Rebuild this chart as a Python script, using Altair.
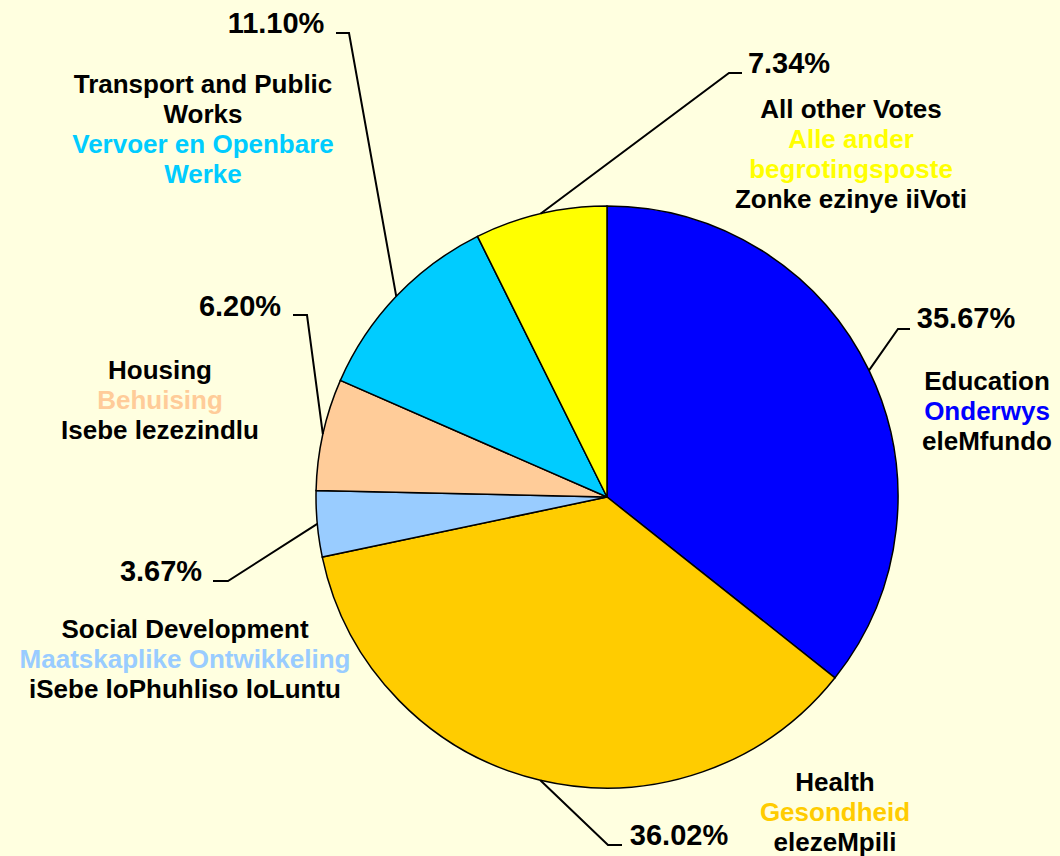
import altair as alt
import pandas as pd
import numpy as np

# ---- data ----
categories = ["Education", "Health", "Social Development", "Housing",
              "Transport and Public Works", "All other Votes"]
values = [35.67, 36.02, 3.67, 6.20, 11.10, 7.34]
pct_labels = ["35.67%", "36.02%", "3.67%", "6.20%", "11.10%", "7.34%"]
colors = ["#0000FF", "#FFCC00", "#99CCFF", "#FFCC99", "#00CCFF", "#FFFF00"]
english = [["Education"], ["Health"], ["Social Development"], ["Housing"],
           ["Transport and Public", "Works"], ["All other Votes"]]
afrikaans = [["Onderwys"], ["Gesondheid"], ["Maatskaplike Ontwikkeling"], ["Behuising"],
             ["Vervoer en Openbare", "Werke"], ["Alle ander", "begrotingsposte"]]
xhosa = [["eleMfundo"], ["elezeMpili"], ["iSebe loPhuhliso loLuntu"], ["Isebe lezezindlu"],
         [], ["Zonke ezinye iiVoti"]]

# ---- layout (annotation placement) ----
W, H = 1060, 856
CX, CY, R = 607, 497, 291
label_anchor = [(987, 390), (835, 791), (185, 638), (160, 379), (203, 93), (851, 118)]
pct_anchor = [(966, 328), (679, 845), (161, 581), (240, 316), (276, 33), (789, 73)]
elbow = [(898, 329, 910), (608, 845, 622), (228, 581, 213),
         (307, 315, 293), (349, 33, 336), (729, 73, 742)]
LINE = 30

df = pd.DataFrame({"category": categories, "value": values, "idx": range(len(values))})

# leader lines: from slice edge at mid-angle to elbow, then short horizontal
total = sum(values)
cum = np.cumsum([0] + values)
rows = []
for i, c in enumerate(categories):
    mid = (cum[i] + cum[i + 1]) / 2 / total * 2 * np.pi
    ex0 = CX + R * np.sin(mid)
    ey0 = CY - R * np.cos(mid)
    ex, ey, hx = elbow[i]
    rows += [{"category": c, "step": 0, "x": ex0, "y": ey0},
             {"category": c, "step": 1, "x": ex, "y": ey},
             {"category": c, "step": 2, "x": hx, "y": ey}]
lines_df = pd.DataFrame(rows)

text_rows = []
for i, c in enumerate(categories):
    ax, ay = label_anchor[i]
    k = 0
    for t in english[i]:
        text_rows.append({"text": t, "x": ax, "y": ay + k * LINE, "color": "#000000"}); k += 1
    for t in afrikaans[i]:
        text_rows.append({"text": t, "x": ax, "y": ay + k * LINE, "color": colors[i]}); k += 1
    for t in xhosa[i]:
        text_rows.append({"text": t, "x": ax, "y": ay + k * LINE, "color": "#000000"}); k += 1
text_df = pd.DataFrame(text_rows)

pct_df = pd.DataFrame({"text": pct_labels,
                       "x": [p[0] for p in pct_anchor],
                       "y": [p[1] for p in pct_anchor]})

xs = alt.Scale(domain=[0, W], nice=False, zero=False)
ys = alt.Scale(domain=[H, 0], nice=False, zero=False)

pie = alt.Chart(df).mark_arc(outerRadius=R, stroke="black", strokeWidth=1.5).encode(
    theta=alt.Theta("value:Q", stack=True),
    color=alt.Color("category:N", scale=alt.Scale(domain=categories, range=colors), legend=None),
    order=alt.Order("idx:Q"),
    x=alt.value(CX),
    y=alt.value(CY),
)

leaders = alt.Chart(lines_df).mark_line(color="black", strokeWidth=2).encode(
    x=alt.X("x:Q", scale=xs, axis=None),
    y=alt.Y("y:Q", scale=ys, axis=None),
    detail="category:N",
    order=alt.Order("step:Q"),
)

labels = alt.Chart(text_df).mark_text(
    font="Liberation Sans", fontWeight="bold", fontSize=26, align="center", baseline="alphabetic"
).encode(
    x=alt.X("x:Q", scale=xs, axis=None),
    y=alt.Y("y:Q", scale=ys, axis=None),
    text="text:N",
    color=alt.Color("color:N", scale=None),
)

pcts = alt.Chart(pct_df).mark_text(
    font="Liberation Sans", fontWeight="bold", fontSize=29, align="center", baseline="alphabetic",
    color="black"
).encode(
    x=alt.X("x:Q", scale=xs, axis=None),
    y=alt.Y("y:Q", scale=ys, axis=None),
    text="text:N",
)

chart = alt.layer(pie, leaders, labels, pcts).properties(
    width=W, height=H, background="#FFFFE0", padding=0,
    autosize=alt.AutoSizeParams(type="none"),
).configure_view(strokeWidth=0)

chart.save("out.html", embed_options={"renderer": "svg", "actions": False})
